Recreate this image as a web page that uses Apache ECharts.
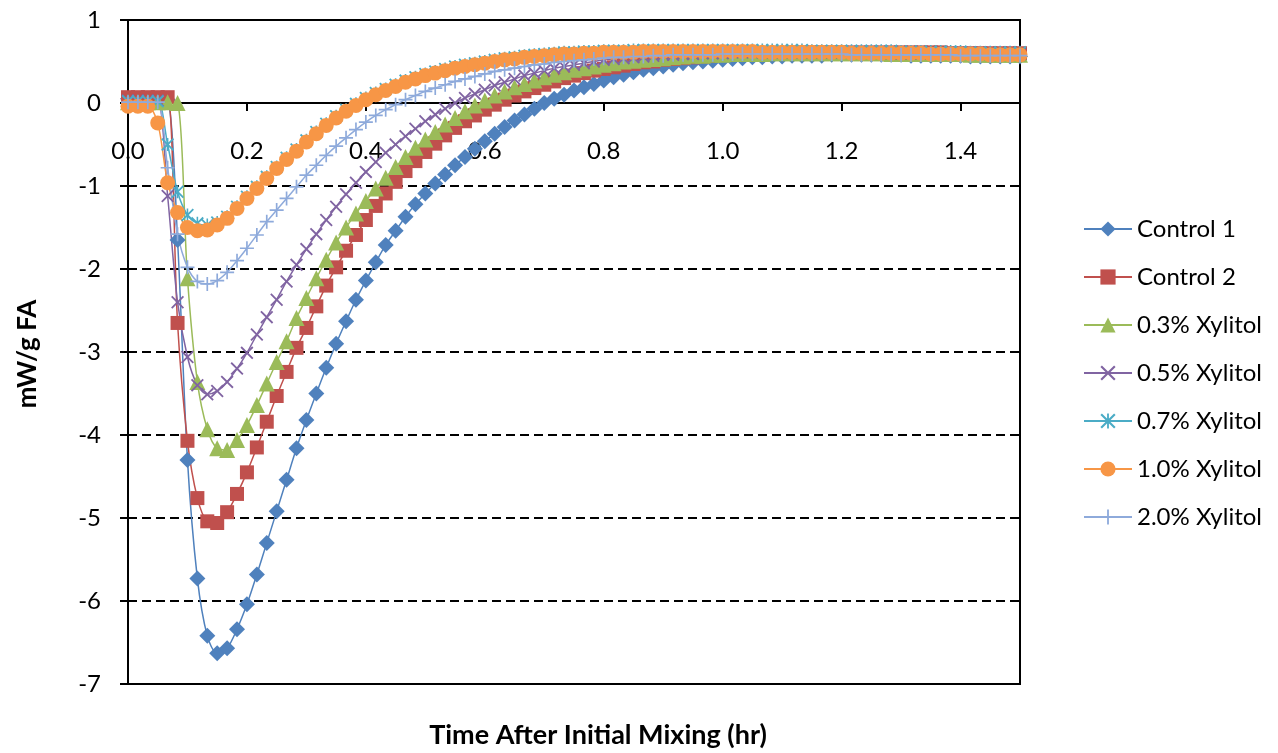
<!DOCTYPE html>
<html>
<head>
<meta charset="utf-8">
<script src="https://cdn.jsdelivr.net/npm/echarts@6/dist/echarts.min.js"></script>
<style>
html,body{margin:0;padding:0;background:#fff;}
#chart{width:1278px;height:753px;}
</style>
</head>
<body>
<div id="chart"></div>
<script>
// Sampling: one reading per minute, 0..90 min (0..1.5 hr)
const minuteStep = 1 / 60;
const seriesNames = ['Control 1','Control 2','0.3% Xylitol','0.5% Xylitol','0.7% Xylitol','1.0% Xylitol','2.0% Xylitol'];
const xTickLabels = ['0.0','0.2','0.4','0.6','0.8','1.0','1.2','1.4'];
const yTickLabels = ['-7','-6','-5','-4','-3','-2','-1','0','1'];

const control1 = [0.05,0.05,0.05,0.05,0.04,
-1.65,-4.30,-5.73,-6.42,-6.63,
-6.57,-6.34,-6.04,-5.68,-5.30,
-4.92,-4.54,-4.16,-3.82,-3.50,
-3.19,-2.90,-2.63,-2.37,-2.14,
-1.92,-1.71,-1.54,-1.37,-1.22,
-1.09,-0.97,-0.86,-0.75,-0.65,
-0.55,-0.46,-0.37,-0.29,-0.21,
-0.14,-0.07,0.00,0.05,0.10,
0.15,0.19,0.23,0.27,0.31,
0.34,0.37,0.40,0.42,0.44,
0.46,0.48,0.49,0.50,0.51,
0.52,0.53,0.54,0.55,0.55,
0.56,0.56,0.57,0.57,0.57,
0.57,0.58,0.58,0.58,0.58,
0.58,0.58,0.58,0.58,0.57,
0.57,0.57,0.57,0.57,0.57,
0.56,0.56,0.56,0.56,0.56,
0.56];

const control2 = [0.07,0.07,0.07,0.07,0.07,
-2.65,-4.07,-4.76,-5.04,-5.06,
-4.93,-4.71,-4.45,-4.15,-3.84,
-3.53,-3.24,-2.95,-2.71,-2.45,
-2.20,-1.98,-1.78,-1.59,-1.41,
-1.24,-1.09,-0.95,-0.82,-0.70,
-0.59,-0.49,-0.39,-0.30,-0.22,
-0.15,-0.08,-0.02,0.04,0.09,
0.14,0.18,0.22,0.26,0.30,
0.33,0.36,0.39,0.41,0.43,
0.45,0.47,0.49,0.50,0.52,
0.53,0.54,0.55,0.56,0.57,
0.58,0.58,0.59,0.59,0.60,
0.60,0.60,0.61,0.61,0.61,
0.61,0.61,0.61,0.61,0.61,
0.61,0.61,0.61,0.61,0.61,
0.61,0.61,0.61,0.60,0.60,
0.60,0.60,0.60,0.60,0.60,
0.60];

const xylitol03 = [0.01,0.01,0.01,0.01,0.01,
0.00,-2.11,-3.36,-3.93,-4.16,
-4.18,-4.06,-3.88,-3.64,-3.38,
-3.12,-2.87,-2.59,-2.35,-2.11,
-1.89,-1.68,-1.50,-1.33,-1.18,
-1.03,-0.90,-0.77,-0.65,-0.54,
-0.44,-0.35,-0.26,-0.18,-0.10,
-0.03,0.03,0.09,0.14,0.19,
0.23,0.27,0.31,0.34,0.37,
0.40,0.42,0.44,0.46,0.48,
0.50,0.51,0.52,0.53,0.54,
0.55,0.56,0.57,0.57,0.58,
0.58,0.59,0.59,0.59,0.59,
0.60,0.60,0.60,0.60,0.60,
0.60,0.60,0.60,0.60,0.60,
0.60,0.60,0.59,0.59,0.59,
0.59,0.59,0.59,0.59,0.59,
0.58,0.58,0.58,0.58,0.58,
0.58];

const xylitol05 = [0.03,0.03,0.03,0.03,-1.12,
-2.40,-3.06,-3.40,-3.51,-3.47,
-3.36,-3.20,-3.01,-2.79,-2.58,
-2.37,-2.15,-1.95,-1.76,-1.58,
-1.41,-1.25,-1.10,-0.96,-0.83,
-0.71,-0.60,-0.50,-0.40,-0.31,
-0.22,-0.14,-0.07,0.00,0.06,
0.11,0.16,0.21,0.25,0.29,
0.33,0.36,0.39,0.42,0.44,
0.46,0.48,0.50,0.52,0.53,
0.54,0.55,0.56,0.57,0.58,
0.58,0.59,0.59,0.60,0.60,
0.60,0.61,0.61,0.61,0.61,
0.61,0.61,0.61,0.61,0.61,
0.61,0.61,0.61,0.61,0.61,
0.61,0.61,0.60,0.60,0.60,
0.60,0.60,0.60,0.60,0.60,
0.60,0.60,0.59,0.59,0.59,
0.59];

const xylitol07 = [0.02,0.02,0.02,0.02,-0.50,
-1.07,-1.35,-1.45,-1.47,-1.44,
-1.37,-1.25,-1.13,-1.01,-0.89,
-0.77,-0.66,-0.56,-0.45,-0.35,
-0.25,-0.16,-0.08,-0.01,0.06,
0.12,0.17,0.22,0.27,0.31,
0.35,0.38,0.41,0.44,0.46,
0.48,0.50,0.52,0.54,0.55,
0.57,0.58,0.59,0.60,0.61,
0.61,0.62,0.62,0.63,0.63,
0.63,0.64,0.64,0.64,0.64,
0.64,0.64,0.64,0.64,0.64,
0.64,0.64,0.64,0.64,0.64,
0.64,0.64,0.64,0.64,0.63,
0.63,0.63,0.63,0.63,0.63,
0.63,0.63,0.63,0.62,0.62,
0.62,0.62,0.62,0.62,0.62,
0.61,0.61,0.61,0.61,0.61,
0.61];

const xylitol10 = [-0.04,-0.04,-0.04,-0.24,-0.96,
-1.32,-1.50,-1.54,-1.53,-1.47,
-1.39,-1.27,-1.15,-1.03,-0.91,
-0.79,-0.68,-0.58,-0.47,-0.37,
-0.27,-0.18,-0.10,-0.03,0.04,
0.10,0.15,0.20,0.25,0.29,
0.33,0.36,0.39,0.42,0.44,
0.46,0.48,0.50,0.52,0.53,
0.55,0.56,0.57,0.58,0.59,
0.59,0.60,0.60,0.61,0.61,
0.61,0.61,0.62,0.62,0.62,
0.62,0.62,0.62,0.62,0.62,
0.62,0.62,0.62,0.62,0.61,
0.61,0.61,0.61,0.61,0.61,
0.61,0.61,0.61,0.60,0.60,
0.60,0.60,0.60,0.60,0.60,
0.60,0.59,0.59,0.59,0.59,
0.59,0.59,0.58,0.58,0.58,
0.58];

const xylitol20 = [0.01,0.01,0.01,0.01,-0.78,
-1.58,-1.98,-2.15,-2.18,-2.14,
-2.04,-1.90,-1.75,-1.59,-1.43,
-1.29,-1.15,-1.01,-0.87,-0.75,
-0.63,-0.52,-0.42,-0.32,-0.23,
-0.15,-0.08,-0.02,0.04,0.09,
0.14,0.18,0.22,0.26,0.29,
0.32,0.35,0.38,0.40,0.42,
0.44,0.46,0.47,0.49,0.50,
0.51,0.52,0.53,0.54,0.55,
0.55,0.56,0.56,0.57,0.57,
0.58,0.58,0.58,0.58,0.58,
0.59,0.59,0.59,0.59,0.59,
0.59,0.59,0.59,0.59,0.59,
0.59,0.59,0.59,0.58,0.58,
0.58,0.58,0.58,0.58,0.58,
0.58,0.58,0.58,0.58,0.57,
0.57,0.57,0.57,0.57,0.57,
0.57];

const allValues = [control1, control2, xylitol03, xylitol05, xylitol07, xylitol10, xylitol20];

// marker shapes
const xPath = 'path://M1,0 L5,4 L9,0 L10,1 L6,5 L10,9 L9,10 L5,6 L1,10 L0,9 L4,5 L0,1 Z';
const plusPath = 'path://M4.4,0 L5.6,0 L5.6,4.4 L10,4.4 L10,5.6 L5.6,5.6 L5.6,10 L4.4,10 L4.4,5.6 L0,5.6 L0,4.4 L4.4,4.4 Z';
const starPath = 'path://M1,0 L5,4 L9,0 L10,1 L6,5 L10,9 L9,10 L5,6 L1,10 L0,9 L4,5 L0,1 Z M4.4,0 L5.6,0 L5.6,10 L4.4,10 Z';

const styles = [
  {color:'#4F81BD', symbol:'diamond', size:16},
  {color:'#C0504D', symbol:'rect', size:14},
  {color:'#9BBB59', symbol:'triangle', size:16},
  {color:'#8064A2', symbol:xPath, size:13},
  {color:'#4BACC6', symbol:starPath, size:13},
  {color:'#F79646', symbol:'circle', size:15},
  {color:'#8EAADB', symbol:plusPath, size:14}
];

const FONT = 'Lato, "Open Sans", sans-serif';

const series = seriesNames.map((name, k) => ({
  name: name,
  type: 'line',
  data: allValues[k].map((v, i) => [i * minuteStep, v]),
  symbol: styles[k].symbol,
  symbolSize: styles[k].size,
  showAllSymbol: true,
  smooth: 0.3,
  clip: false,
  lineStyle: {color: styles[k].color, width: 1.5},
  itemStyle: {color: styles[k].color, borderColor: styles[k].color, borderWidth: 0},
  emphasis: {disabled: true},
  animation: false
}));

const chart = echarts.init(document.getElementById('chart'), null, {renderer: 'canvas'});
chart.setOption({
  backgroundColor: '#ffffff',
  animation: false,
  grid: {left: 128, right: 258, top: 20, bottom: 69, show: true, borderColor: '#000', borderWidth: 2, backgroundColor: 'transparent'},
  legend: {
    orient: 'vertical',
    left: 1078,
    top: 212,
    itemWidth: 48,
    itemHeight: 19,
    itemGap: 24,
    data: seriesNames,
    selectedMode: false,
    textStyle: {fontFamily: FONT, fontSize: 24, color: '#000', lineHeight: 24}
  },
  xAxis: {
    type: 'value',
    min: 0,
    max: 1.5,
    interval: 0.2,
    position: 'bottom',
    offset: -581,
    axisLine: {onZero: false, lineStyle: {color: '#000', width: 2}},
    axisTick: {show: true, length: 8, lineStyle: {color: '#000', width: 2}},
    axisLabel: {
      margin: 36,
      fontFamily: FONT, fontSize: 24, color: '#000',
      formatter: function (v) {
        const idx = Math.round(v / 0.2);
        if (Math.abs(v - idx * 0.2) > 1e-6) return '';
        return xTickLabels[idx] || '';
      }
    },
    splitLine: {show: false}
  },
  yAxis: {
    type: 'value',
    min: -7,
    max: 1,
    interval: 1,
    axisLine: {onZero: false, lineStyle: {color: '#000', width: 2}},
    axisTick: {show: true, length: 8, lineStyle: {color: '#000', width: 2}},
    axisLabel: {
      margin: 27,
      fontFamily: FONT, fontSize: 24, color: '#000',
      formatter: function (v) { return yTickLabels[Math.round(v + 7)]; }
    },
    splitLine: {show: true, lineStyle: {color: '#000', width: 2, type: [9, 5]}}
  },
  graphic: [
    {type: 'text', position: [598, 735], silent: true,
     style: {text: 'Time After Initial Mixing (hr)', font: 'bold 27px ' + FONT, fill: '#000', textAlign: 'center', textVerticalAlign: 'middle'}},
    {type: 'text', position: [28, 354], rotation: Math.PI / 2, silent: true,
     style: {text: 'mW/g FA', font: 'bold 26px ' + FONT, fill: '#000', textAlign: 'center', textVerticalAlign: 'middle'}}
  ],
  series: series
});
</script>
</body>
</html>
